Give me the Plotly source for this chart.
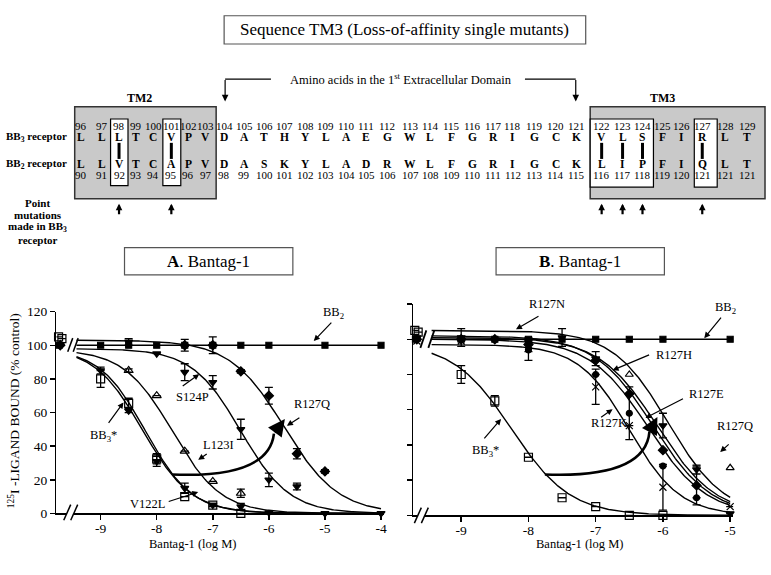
import numpy as np
import plotly.graph_objects as go

W, H = 771, 575
SERIF = "Liberation Serif, Times New Roman, serif"

# ------------------------------------------------------------------ data
title_text = "Sequence TM3 (Loss-of-affinity single mutants)"
domain_text = "Amino acids in the 1<sup>st</sup> Extracellular Domain"
bb3_numbers = [96, 97, 98, 99, 100, 101, 102, 103, 104, 105, 106, 107, 108, 109, 110, 111, 112,
               113, 114, 115, 116, 117, 118, 119, 120, 121, 122, 123, 124, 125, 126, 127, 128, 129]
bb3_seq = list("LLLTCVPVDATHYLAEGWLFGRIGCKVLSFIRLT")
bb2_seq = list("LLVTCAPVDASKYLADRWLFGRIGCKLIPFIQLT")
bb2_numbers = [90, 91, 92, 93, 94, 95, 96, 97, 98, 99, 100, 101, 102, 103, 104, 105, 106,
               107, 108, 109, 110, 111, 112, 113, 114, 115, 116, 117, 118, 119, 120, 121, 121, 121]
mutated = [98, 101, 122, 123, 124, 127]

xtick_A = [-9, -8, -7, -6, -5, -4]
xtick_B = [-9, -8, -7, -6, -5]
xtick_text_A = ["-9", "-8", "-7", "-6", "-5", "-4"]
xtick_text_B = ["-9", "-8", "-7", "-6", "-5"]
ytick = [0, 20, 40, 60, 80, 100, 120]
ytick_text = ["0", "20", "40", "60", "80", "100", "120"]

# Panel A measured points (x = log M, control plotted left of the axis break)
A_BB2_x = [-9.74, -9, -8.5, -8, -7.5, -7, -6.5, -6, -5, -4]
A_BB2_y = [100, 100, 100, 100, 100, 100, 100, 100, 100, 100]
A_BB3_x = [-9.75, -9.69, -9, -8.5, -8, -7.5, -7, -6.5]
A_BB3_y = [105, 104, 80, 65.5, 32.5, 10, 5, 0]
A_BB3_e = [0, 0, 5, 3, 3, 0, 0, 0]
A_V122L_x = [-9.72, -9, -8.5, -8, -7.5, -7, -6.5, -6, -5, -4]
A_V122L_y = [100, 85, 61, 31, 15, 5, 4, 0.5, 0, 0]
A_V122L_e = [0, 2, 1, 3, 3, 1, 2, 0, 0, 0]
A_L123I_x = [-8.5, -8, -7.5, -7, -6.5]
A_L123I_y = [85, 70, 37, 19, 12]
A_L123I_e = [1, 0, 0, 0, 2.5]
A_S124P_x = [-8.5, -8, -7.5, -7, -6.5, -6, -5.5]
A_S124P_y = [102, 95, 84, 78, 50, 20, 16]
A_S124P_e = [2, 0, 5, 4, 6, 4, 2]
A_R127Q_x = [-9.72, -7.5, -7, -6.5, -6, -5.5, -5]
A_R127Q_y = [100, 100, 100, 84.5, 70, 35.5, 25]
A_R127Q_e = [0, 3.5, 5, 1, 5, 3, 1]

# Panel A fitted curves (top, log IC50, Hill slope)
A_fit_names = ["BB3*", "V122L", "L123I", "S124P", "R127Q"]
A_fit_top = [99, 98, 97.5, 98, 103]
A_fit_logic50 = [-8.25, -8.2, -7.72, -6.5, -5.73]
A_fit_hill = [1.0, 1.05, 1.0, 1.0, 0.9]
A_fit_range = [-9.43, -4.0]

# Panel B measured points
B_BB2_x = [-9.68, -9, -8.5, -8, -7.5, -7, -6.5, -6, -5]
B_BB2_y = [100, 100, 100, 100, 100, 100, 100, 100, 100]
B_BB3_x = [-9.69, -9.64, -9, -8.5, -8, -7.5, -7, -6.5, -6]
B_BB3_y = [105, 104, 80, 65, 33, 10, 5, 0, 0]
B_BB3_e = [0, 0, 5, 3, 0, 0, 0, 0, 0]
B_N_x = [-9.66, -9, -8, -7.5, -7, -6, -5.5, -5]
B_N_y = [101, 101, 99, 101, 89, 51, 26, 1]
B_N_e = [0, 5, 0, 5, 4, 7, 2.5, 0]
B_E_x = [-9.66, -9, -8.5, -8, -7, -6.5, -6, -5.5]
B_E_y = [100, 100, 100, 97, 88, 69, 37, 17]
B_E_e = [0, 0, 0, 4, 0, 0, 0, 11]
B_H_x = [-9, -8, -7, -6.5, -6, -5.5]
B_H_y = [100, 94, 80, 58, 28, 10]
B_H_e = [0, 6, 0, 15, 0, 0]
B_K_x = [-9.66, -9, -8, -7, -6.5, -6, -5]
B_K_y = [99, 99, 97, 73, 51, 16, 5]
B_K_e = [0, 0, 0, 10, 0, 13, 0]
B_Q_x = [-6.5, -5]
B_Q_y = [80, 27]

# Panel B fitted curves
B_fit_names = ["BB3*", "R127K", "R127E", "R127H", "R127Q", "R127N"]
B_fit_top = [98, 97, 100, 102, 101, 105]
B_fit_logic50 = [-8.25, -6.5, -6.22, -6.15, -6.08, -5.92]
B_fit_hill = [1.0, 1.15, 1.0, 1.0, 1.0, 1.05]
B_fit_range = [-9.44, -5.0]

# ------------------------------------------------------------------ helpers
def px(x):
    return x / W


def py(y):
    return 1 - y / H


def hill(x, top, logic50, n):
    return top / (1 + 10 ** (n * (x - logic50)))


def txt(x, y, text, size=12, xanchor="center", angle=0):
    return dict(xref="paper", yref="paper", x=px(x), y=py(y), text=text, showarrow=False,
                xanchor=xanchor, yanchor="middle", textangle=angle,
                font=dict(family=SERIF, size=size, color="black"))


def arr(tail, head, width=1.2, size=1.0):
    return dict(xref="paper", yref="paper", x=px(head[0]), y=py(head[1]),
                ax=tail[0] - head[0], ay=tail[1] - head[1], axref="pixel", ayref="pixel",
                text="", showarrow=True, arrowhead=2, arrowwidth=width, arrowsize=size,
                arrowcolor="black", standoff=0, startstandoff=0)


def line(x0, y0, x1, y1, width=1.2, color="black"):
    return dict(type="line", xref="paper", yref="paper", x0=px(x0), y0=py(y0), x1=px(x1), y1=py(y1),
                line=dict(color=color, width=width), layer="above")


def rect(x0, y0, x1, y1, fill="white", lw=1.2, lc="black", layer="above"):
    return dict(type="rect", xref="paper", yref="paper", x0=px(x0), y0=py(y0), x1=px(x1), y1=py(y1),
                fillcolor=fill, line=dict(color=lc, width=lw), layer=layer)


fig = go.Figure()


def pts(x, y, e, symbol, xa, ya, size=7):
    marker = dict(symbol=symbol, size=size, color="black",
                  line=dict(color="black", width=1.2))
    fig.add_trace(go.Scatter(
        x=x, y=y, mode="markers", marker=marker, xaxis=xa, yaxis=ya, cliponaxis=False,
        error_y=dict(type="data", array=e, visible=e is not None, color="black",
                     thickness=1.3, width=4),
        showlegend=False, hoverinfo="skip"))


def curve(top, logic50, n, rng, xa, ya):
    xs = np.linspace(rng[0], rng[1], 240)
    fig.add_trace(go.Scatter(x=xs, y=hill(xs, top, logic50, n), mode="lines",
                             line=dict(color="black", width=1.4), xaxis=xa, yaxis=ya,
                             showlegend=False, hoverinfo="skip", cliponaxis=False))


# ---- Panel A
for t, c, n in zip(A_fit_top, A_fit_logic50, A_fit_hill):
    curve(t, c, n, A_fit_range, "x", "y")
fig.add_trace(go.Scatter(x=[A_fit_range[0], A_fit_range[1]], y=[A_BB2_y[0], A_BB2_y[-1]],
                         mode="lines", line=dict(color="black", width=1.4), xaxis="x", yaxis="y",
                         showlegend=False, hoverinfo="skip"))
pts(A_BB2_x, A_BB2_y, None, "square", "x", "y", 6)
pts(A_R127Q_x, A_R127Q_y, A_R127Q_e, "diamond", "x", "y", 7)
pts(A_S124P_x, A_S124P_y, A_S124P_e, "triangle-down", "x", "y", 7)
pts(A_L123I_x, A_L123I_y, A_L123I_e, "triangle-up-open", "x", "y", 8)
pts(A_V122L_x, A_V122L_y, A_V122L_e, "triangle-down", "x", "y", 7)
pts(A_BB3_x, A_BB3_y, A_BB3_e, "square-open", "x", "y", 8)

# ---- Panel B
for t, c, n in zip(B_fit_top, B_fit_logic50, B_fit_hill):
    curve(t, c, n, B_fit_range, "x2", "y2")
fig.add_trace(go.Scatter(x=[B_fit_range[0], B_fit_range[1]], y=[B_BB2_y[0], B_BB2_y[-1]],
                         mode="lines", line=dict(color="black", width=1.4), xaxis="x2", yaxis="y2",
                         showlegend=False, hoverinfo="skip"))
pts(B_BB2_x, B_BB2_y, None, "square", "x2", "y2", 6)
pts(B_N_x, B_N_y, B_N_e, "triangle-down", "x2", "y2", 7)
pts(B_E_x, B_E_y, B_E_e, "diamond", "x2", "y2", 7)
pts(B_H_x, B_H_y, B_H_e, "circle", "x2", "y2", 6)
pts(B_K_x, B_K_y, B_K_e, "x-thin-open", "x2", "y2", 7)
pts(B_Q_x, B_Q_y, None, "triangle-up-open", "x2", "y2", 7)
pts(B_BB3_x, B_BB3_y, B_BB3_e, "square-open", "x2", "y2", 8)

# ------------------------------------------------------------------ axes
axis_common = dict(showline=True, linecolor="black", linewidth=1.5, ticks="outside", ticklen=5,
                   tickwidth=1.5, tickcolor="black", showgrid=False, zeroline=False,
                   tickfont=dict(family=SERIF, size=13.5, color="black"))
fig.update_layout(
    xaxis=dict(domain=[px(56.7), px(385)], range=[-9.787, -3.956], tickmode="array",
               tickvals=xtick_A, ticktext=xtick_text_A, anchor="y", ticklabelstandoff=-3,
               **axis_common),
    yaxis=dict(domain=[py(520), py(312.8)], range=[0, 120], tickmode="array",
               tickvals=ytick, ticktext=ytick_text, anchor="x", **axis_common),
    xaxis2=dict(domain=[px(415), px(736)], range=[-9.711, -4.956], tickmode="array",
                tickvals=xtick_B, ticktext=xtick_text_B, anchor="y2", ticklabelstandoff=-3,
                **axis_common),
    yaxis2=dict(domain=[py(522), py(305)], range=[0, 120], tickmode="array",
                tickvals=ytick, ticktext=ytick_text, showticklabels=False, anchor="x2",
                **axis_common),
)

# ------------------------------------------------------------------ shapes & annotations
shapes = []
ann = []

# title box
shapes.append(rect(225, 9, 588, 38, lw=1.2, lc="#555555", layer="below"))
ann.append(txt(406, 23.5, title_text, 17))

# extracellular-domain bracket
shapes.append(line(226, 74, 272, 74))
shapes.append(line(527, 74, 578, 74))
ann.append(arr((226, 74), (226, 97), 1.2, 1.1))
ann.append(arr((578, 74), (578, 97), 1.2, 1.1))
ann.append(txt(403, 74, domain_text, 12.5))

# TM boxes
shapes.append(rect(75, 102.5, 217, 197, fill="#c9c9c9", lw=1.5, lc="#333333", layer="below"))
shapes.append(rect(592.5, 102.5, 768, 197, fill="#c9c9c9", lw=1.5, lc="#333333", layer="below"))
ann.append(txt(140, 93, "<b>TM2</b>", 12))
ann.append(txt(665, 93, "<b>TM3</b>", 12))

col_x = [81, 102, 119.5, 137, 154, 172, 189, 206.5, 225, 245, 265.5, 286, 306.5, 327, 347.5, 367.5, 389,
         412, 432, 453, 474, 495, 515, 537, 558, 579, 604, 625, 645, 665, 684, 705, 728, 750]
col_of = dict(zip(bb3_numbers, col_x))
# white boxes around mutated residues
shapes.append(rect(111, 115, 128.5, 183.5, layer="below"))
shapes.append(rect(163.5, 115, 181.5, 183.5, layer="below"))
shapes.append(rect(592.5, 115, 656, 185, layer="below"))
shapes.append(rect(697, 115, 720, 185, layer="below"))

for i, xc in enumerate(col_x):
    ann.append(txt(xc, 122, str(bb3_numbers[i]), 11))
    ann.append(txt(xc, 133.5, "<b>%s</b>" % bb3_seq[i], 11.5))
    ann.append(txt(xc, 161.5, "<b>%s</b>" % bb2_seq[i], 11.5))
    ann.append(txt(xc, 173, str(bb2_numbers[i]), 11))
for m in mutated:
    shapes.append(line(col_of[m], 139.5, col_of[m], 156, width=3))
    ann.append(arr((col_of[m], 214), (col_of[m], 202), 2.2, 0.6))

ann.append(txt(37, 133.5, "<b>BB<sub>3</sub> receptor</b>", 11))
ann.append(txt(37, 161.5, "<b>BB<sub>2</sub> receptor</b>", 11))
for k, s in enumerate(["Point", "mutations", "made in BB<sub>3</sub>", "receptor"]):
    ann.append(txt(38, 201 + 12.6 * k, "<b>%s</b>" % s, 11))

# panel title boxes
shapes.append(rect(125, 247, 294, 275, lw=1.2, lc="#555555", layer="below"))
shapes.append(rect(498, 247, 667, 275, lw=1.2, lc="#555555", layer="below"))
ann.append(txt(209.5, 261.5, "<b>A</b>. Bantag-1", 17))
ann.append(txt(582.5, 261.5, "<b>B</b>. Bantag-1", 17))

# axis titles
ann.append(txt(14, 414, "<sup>125</sup>I -LIGAND BOUND (% control)", 13.5, angle=-90))
ann.append(txt(193, 551, "Bantag-1 (log M)", 12.5))
ann.append(txt(582, 551, "Bantag-1 (log M)", 12.5))

# axis breaks
for (x0, y0) in [(64, 527), (416, 530)]:
    shapes.append(rect(x0 + 3, y0 - 10, x0 + 10, y0 - 3, fill="white", lw=0))
    shapes.append(line(x0, y0, x0 + 7, y0 - 16, 1.5))
    shapes.append(line(x0 + 7, y0, x0 + 14, y0 - 16, 1.5))
shapes.append(line(68, 354, 73, 340, 1.5))
shapes.append(line(73.5, 354, 78.5, 340, 1.5))
shapes.append(line(422, 350, 428, 332, 1.8))
shapes.append(line(430, 350, 436, 332, 1.8))

# in-plot labels, panel A
ann += [
    txt(335, 314, "BB<sub>2</sub>", 12.5), arr((334, 323), (315, 343)),
    txt(193, 400, "S124P", 12.5), arr((182, 390), (200, 377)),
    txt(313, 408, "R127Q", 12.5), arr((302, 421), (288, 430)),
    txt(104, 441, "BB<sub>3</sub>*", 12.5), arr((108, 428), (124, 406)),
    txt(219, 450, "L123I", 12.5), arr((209, 458), (199, 465)),
    txt(148, 510, "V122L", 12.5), arr((168, 508), (199, 498)),
]
# in-plot labels, panel B
ann += [
    txt(549, 305, "R127N", 12.5), arr((542, 317), (518, 331)),
    txt(728, 309, "BB<sub>2</sub>", 12.5), arr((725, 318), (707, 340)),
    txt(677, 357, "R127H", 12.5), arr((653, 357), (615, 373)),
    txt(709, 397, "R127E", 12.5), arr((687, 402), (648, 422)),
    txt(611, 427, "R127K", 12.5), arr((602, 422), (615, 413)),
    txt(738, 430, "R127Q", 12.5), arr((733, 448), (723, 457)),
    txt(487, 456, "BB<sub>3</sub>*", 12.5), arr((485, 444), (503, 423)),
]

# thick curved arrows (shift of affinity)
for (p0, c, p1, tip) in [((173, 480), (270, 484), (275, 438), (286, 423)),
                         ((547, 480), (648, 484), (652, 436), (660, 421))]:
    path = "M %.5f,%.5f Q %.5f,%.5f %.5f,%.5f" % (px(p0[0]), py(p0[1]), px(c[0]), py(c[1]),
                                                 px(p1[0]), py(p1[1]))
    shapes.append(dict(type="path", xref="paper", yref="paper", path=path,
                       line=dict(color="black", width=2.6), layer="above"))
    ann.append(arr(p1, tip, 2.6, 1.3))

fig.update_layout(
    width=W, height=H, margin=dict(l=0, r=0, t=0, b=0),
    paper_bgcolor="white", plot_bgcolor="rgba(0,0,0,0)",
    showlegend=False, shapes=shapes, annotations=ann,
    font=dict(family=SERIF, color="black"),
)

fig.write_html("out.html", config={"displayModeBar": False, "staticPlot": True},
               post_script="document.body.style.margin='0';document.body.style.overflow='hidden';")
